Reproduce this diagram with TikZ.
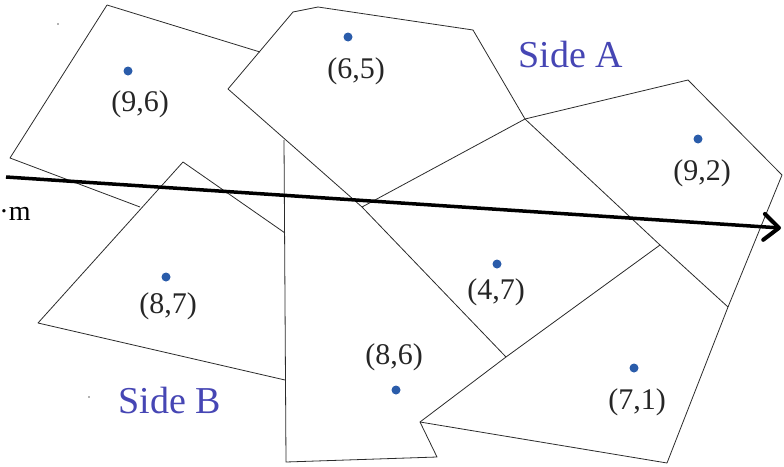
\documentclass[tikz,border=0pt]{standalone}
\usepackage{fontspec}
\setmainfont{Liberation Serif}
\usetikzlibrary{arrows.meta}
\definecolor{dotblue}{HTML}{2A5CAA}
\definecolor{sideblue}{HTML}{4646B4}
\definecolor{edgegray}{HTML}{2B2B2B}
\begin{document}
\begin{tikzpicture}[x=1pt,y=-1pt,
 edgeline/.style={draw=edgegray,line width=0.8pt,line join=round},
 seed/.style={circle,fill=dotblue,inner sep=0pt,minimum size=9pt},
 coordlabel/.style={font=\fontsize{30}{30}\selectfont,text=black!85,inner sep=0pt},
 sidelabel/.style={font=\fontsize{38}{38}\selectfont,text=sideblue,inner sep=0pt},
 axisline/.style={line width=3.5pt,-{Straight Barb[length=15pt,width=26pt,line width=4pt,round]}},
 speck/.style={circle,fill=black!60,inner sep=0pt,minimum size=1.6pt}]
\useasboundingbox (0,0) rectangle (784,466);
% vertices
\coordinate (a1) at (107,5);
\coordinate (a2) at (260,52);
\coordinate (a3) at (10,158);
\coordinate (a4) at (140,207);
\coordinate (b1) at (228,89);
\coordinate (b2) at (293,12);
\coordinate (b3) at (318,7);
\coordinate (b4) at (473,30);
\coordinate (b5) at (525,119);
\coordinate (j) at (362,207);
\coordinate (k) at (506,357);
\coordinate (c1) at (688,80);
\coordinate (c2) at (782,175);
\coordinate (c3) at (728,307);
\coordinate (c4) at (667,463);
\coordinate (c5) at (420,422);
\coordinate (c6) at (660,245);
\coordinate (d1) at (284,140);
\coordinate (d2) at (286,462);
\coordinate (d3) at (437,457);
\coordinate (e1) at (183,162);
\coordinate (e2) at (38,323);
\coordinate (e3) at (285,380);
\coordinate (e4) at (285,233);
% cell edges
\draw[edgeline] (a1) -- (a2);
\draw[edgeline] (a1) -- (a3) -- (a4);
\draw[edgeline] (b1) -- (b2) -- (b3) -- (b4) -- (b5) -- (c6) -- (c3);
\draw[edgeline] (b1) -- (j) -- (k);
\draw[edgeline] (b5) -- (j);
\draw[edgeline] (b5) -- (c1) -- (c2) -- (c3) -- (c4) -- (c5) -- (d3) -- (d2) -- (d1);
\draw[edgeline] (c5) -- (k) -- (c6);
\draw[edgeline] (e1) -- (e2) -- (e3);
\draw[edgeline] (e1) -- (e4);
% line m
\coordinate (m0) at (6,177);
\coordinate (m1) at (781,228);
\draw[axisline] (m0) -- (m1);
\node[font=\fontsize{28}{28}\selectfont,inner sep=0pt] (mlabel) at (15,214) {·m};
% seeds
\node[seed] (s96) at (128,71) {};
\node[coordlabel] (l96) at (140,104) {(9,6)};
\node[seed] (s65) at (348,37) {};
\node[coordlabel] (l65) at (356,71) {(6,5)};
\node[seed] (s92) at (698,139) {};
\node[coordlabel] (l92) at (702,173) {(9,2)};
\node[seed] (s87) at (166,277) {};
\node[coordlabel] (l87) at (168,306) {(8,7)};
\node[seed] (s47) at (497,264) {};
\node[coordlabel] (l47) at (496,292) {(4,7)};
\node[seed] (s86) at (396,390) {};
\node[coordlabel] (l86) at (394,357) {(8,6)};
\node[seed] (s71) at (634,368) {};
\node[coordlabel] (l71) at (637,402) {(7,1)};
% side labels
\node[sidelabel] (sideA) at (571,55) {Side A};
\node[sidelabel] (sideB) at (170,400) {Side B};
% specks
\node[speck] (sp1) at (58,24) {};
\node[speck] (sp2) at (89,397) {};
\end{tikzpicture}
\end{document}
